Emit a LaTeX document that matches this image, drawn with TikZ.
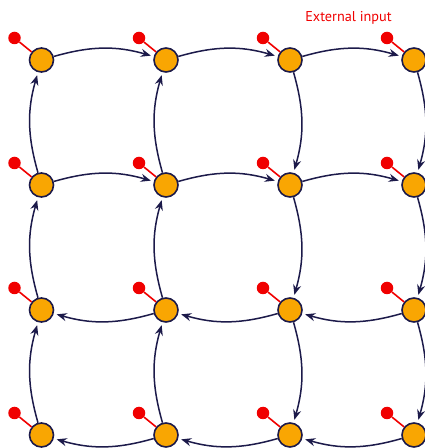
\documentclass[tikz,border=0pt]{standalone}
\usepackage{fontspec}
\setsansfont{PT Sans}
\usetikzlibrary{arrows.meta}
\definecolor{cellfill}{HTML}{F9A602}
\definecolor{wirecol}{HTML}{1C1A4A}
\definecolor{inputred}{HTML}{F00000}
\begin{document}
\begin{tikzpicture}[x=1bp,y=1bp,
  cell/.style={circle,draw=wirecol,fill=cellfill,line width=1.6bp,minimum size=24bp,inner sep=0pt},
  inputdot/.style={circle,fill=inputred,minimum size=12.5bp,inner sep=0pt},
  inputline/.style={draw=inputred,line width=1.6bp},
  flow/.style={draw=wirecol,line width=1.5bp,-{Stealth[length=10bp,width=8bp]},shorten >=3bp,bend left=16}]
\useasboundingbox (0,0) rectangle (424,448);
% cells and their inputs
\foreach \i/\x in {1/41.5,2/166,3/290,4/414}
  \foreach \j/\y in {1/388,2/263,3/138,4/13} {
    \node[cell] (n-\i-\j) at (\x,\y) {};
    \node[inputdot] (in-\i-\j) at (\x-27,\y+22) {};
    \draw[inputline] (in-\i-\j) -- (n-\i-\j);
  }
% rows 1 and 2 run right, rows 3 and 4 run left
\foreach \i [evaluate=\i as \k using int(\i+1)] in {1,2,3} {
  \draw[flow] (n-\i-1) to (n-\k-1);
  \draw[flow] (n-\i-2) to (n-\k-2);
  \draw[flow] (n-\k-3) to (n-\i-3);
  \draw[flow] (n-\k-4) to (n-\i-4);
}
% columns 1 and 2 run up, columns 3 and 4 run down
\foreach \j [evaluate=\j as \k using int(\j+1)] in {1,2,3} {
  \draw[flow] (n-1-\k) to (n-1-\j);
  \draw[flow] (n-2-\k) to (n-2-\j);
  \draw[flow] (n-3-\j) to (n-3-\k);
  \draw[flow] (n-4-\j) to (n-4-\k);
}
\node[text=inputred,font=\sffamily\fontsize{14.3}{16}\selectfont,anchor=base] (label) at (348.5,426.3) {External input};
\end{tikzpicture}
\end{document}
